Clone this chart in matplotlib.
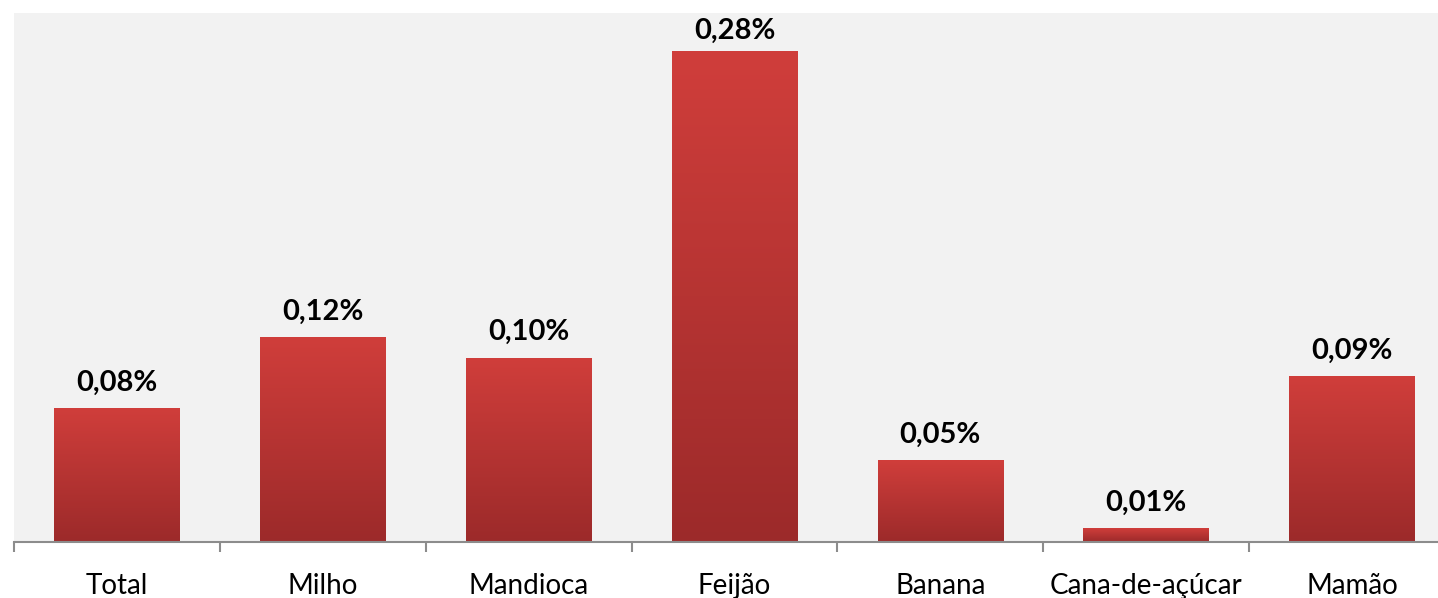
import numpy as np
import matplotlib
matplotlib.use('Agg')
import matplotlib.pyplot as plt

# share of each crop (%)
categories = ['Total', 'Milho', 'Mandioca', 'Feijão', 'Banana', 'Cana-de-açúcar', 'Mamão']
values = [0.0760, 0.1163, 0.1045, 0.2785, 0.0465, 0.0079, 0.0942]

plt.rcParams['font.family'] = ['Lato', 'DejaVu Sans']

fig = plt.figure(figsize=(14.38, 5.98), dpi=100)
# plot area runs past the right edge of the picture, as in the original
ax = fig.add_axes([14 / 1438, 56 / 598, 1441 / 1438, 529 / 598])
ax.set_facecolor('#f2f2f2')

x = np.arange(len(categories))
bars = ax.bar(x, values, width=0.61, color='#c03836', zorder=2)

# vertical red gradient inside each bar
grad = np.linspace(0, 1, 256).reshape(-1, 1)
cmap = matplotlib.colors.LinearSegmentedColormap.from_list('red', ['#9c2a2a', '#d03e3b'])
for b in bars:
    bx, by = b.get_x(), b.get_y()
    w, h = b.get_width(), b.get_height()
    im = ax.imshow(grad, extent=[bx, bx + w, by, by + h], origin='lower',
                   cmap=cmap, aspect='auto', zorder=3)
    im.set_clip_path(b)

for xi, v in zip(x, values):
    lab = '{:.2f}%'.format(v).replace('.', ',')
    # the top label sits closer to its bar in the original (clamped to plot area)
    off = 5 if v == max(values) else 9
    ax.annotate(lab, (xi, v), xytext=(0, off), textcoords='offset points',
                ha='center', va='bottom', fontsize=21, fontweight='bold', color='black')

ax.set_xlim(-0.5, len(categories) - 0.5)
ax.set_ylim(0, 0.30)
ax.set_yticks([])
for s in ['top', 'right', 'left']:
    ax.spines[s].set_visible(False)
ax.spines['bottom'].set_color('#8c8c8c')
ax.spines['bottom'].set_linewidth(1.5)
ax.spines['bottom'].set_zorder(4)

ax.set_xticks(x)
ax.set_xticklabels(categories, fontsize=20)
ax.tick_params(axis='x', length=0, pad=22)
ax.set_xticks(np.arange(len(categories) + 1) - 0.5, minor=True)
ax.tick_params(axis='x', which='minor', length=7, width=1.5, color='#8c8c8c')

fig.savefig('out.png', dpi=100)
